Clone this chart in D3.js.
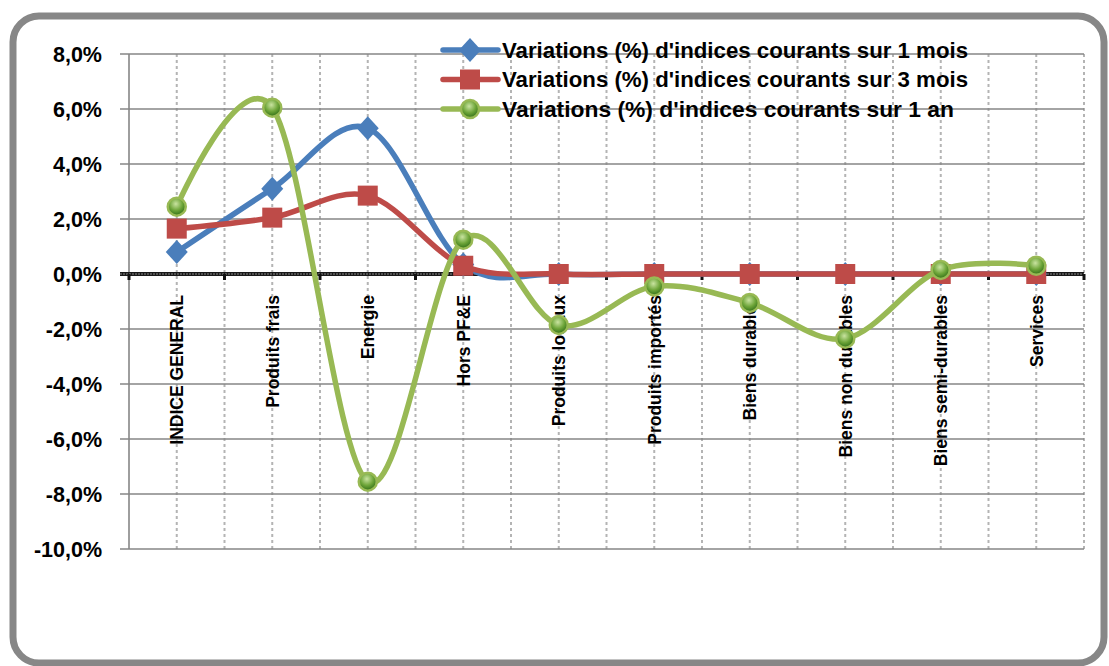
<!DOCTYPE html>
<html>
<head>
<meta charset="utf-8">
<script src="https://cdn.jsdelivr.net/npm/d3@7/dist/d3.min.js"></script>
<style>
  body { margin: 0; background: #fff; }
  svg { display: block; font-family: "Liberation Sans", Arial, sans-serif; }
</style>
</head>
<body>
<div id="chart"></div>
<script>
// Données
const categories = ["INDICE GENERAL", "Produits frais", "Energie", "Hors PF&E", "Produits locaux",
    "Produits importés", "Biens durables", "Biens non durables", "Biens semi-durables", "Services"];
const var1Mois = [0.8, 3.1, 5.3, 0.35, 0, 0, 0, 0, 0, 0];
const var3Mois = [1.65, 2.05, 2.85, 0.3, 0, 0, 0, 0, 0, 0];
const var1An = [2.45, 6.05, -7.55, 1.25, -1.85, -0.45, -1.05, -2.35, 0.15, 0.3];
const yTicks = [8, 6, 4, 2, 0, -2, -4, -6, -8, -10];
const seriesNames = ["Variations (%) d'indices courants sur 1 mois",
    "Variations (%) d'indices courants sur 3 mois",
    "Variations (%) d'indices courants sur 1 an"];

const width = 1109, height = 666;
const margin = { top: 54, right: 25, bottom: 117, left: 129 };

const svg = d3.select("#chart").append("svg")
    .attr("width", width)
    .attr("height", height);

// dégradé pour les marqueurs ronds
const defs = svg.append("defs");
const grad = defs.append("radialGradient").attr("id", "greenBall")
    .attr("cx", "45%").attr("cy", "35%").attr("r", "65%");
grad.append("stop").attr("offset", "0%").attr("stop-color", "#c9e3a0");
grad.append("stop").attr("offset", "55%").attr("stop-color", "#6fa63a");
grad.append("stop").attr("offset", "100%").attr("stop-color", "#2f6e16");

// cadre arrondi
svg.append("rect")
    .attr("x", 13).attr("y", 16)
    .attr("width", 1091).attr("height", 647)
    .attr("rx", 26)
    .attr("fill", "#fff")
    .attr("stroke", "#878787")
    .attr("stroke-width", 7);

const x = d3.scaleBand()
    .domain(categories)
    .range([margin.left, width - margin.right]);

const y = d3.scaleLinear()
    .domain([-10, 8])
    .range([height - margin.bottom, margin.top]);

const cx = d => x(d) + x.bandwidth() / 2;

// grille verticale pointillée (centres et limites)
const vLines = [];
categories.forEach(c => { vLines.push(x(c) + x.bandwidth() / 2); vLines.push(x(c) + x.bandwidth()); });
svg.append("g").selectAll("line")
    .data(vLines)
    .enter().append("line")
    .attr("x1", d => d).attr("x2", d => d)
    .attr("y1", y(8)).attr("y2", y(-10))
    .attr("stroke", "#b4b4b4")
    .attr("stroke-width", 2)
    .attr("stroke-dasharray", "3,3");

// grille horizontale
svg.append("g").selectAll("line")
    .data(yTicks.filter(d => d !== 0))
    .enter().append("line")
    .attr("x1", margin.left - 9).attr("x2", width - margin.right)
    .attr("y1", d => y(d)).attr("y2", d => y(d))
    .attr("stroke", "#868686")
    .attr("stroke-width", 1.6);

// axe vertical
svg.append("line")
    .attr("x1", margin.left).attr("x2", margin.left)
    .attr("y1", y(8)).attr("y2", y(-10))
    .attr("stroke", "#868686")
    .attr("stroke-width", 1.6);

// étiquettes axe Y
svg.append("g").selectAll("text")
    .data(yTicks)
    .enter().append("text")
    .attr("x", 102)
    .attr("y", d => y(d))
    .attr("dy", "0.36em")
    .attr("text-anchor", "end")
    .attr("font-size", "21.5px")
    .attr("font-weight", "bold")
    .attr("fill", "#000")
    .text(d => d3.format(".1f")(d).replace(".", ",").replace("\u2212", "-") + "%");

// axe zéro (trait épais hachuré) + graduations
svg.append("line")
    .attr("x1", margin.left - 9).attr("x2", width - margin.right)
    .attr("y1", y(0)).attr("y2", y(0))
    .attr("stroke", "#1a1a1a")
    .attr("stroke-width", 4);
svg.append("line")
    .attr("x1", margin.left - 9).attr("x2", width - margin.right)
    .attr("y1", y(0)).attr("y2", y(0))
    .attr("stroke", "#8a8a8a")
    .attr("stroke-width", 1.2)
    .attr("stroke-dasharray", "2,1");
svg.append("g").selectAll("line")
    .data([margin.left].concat(categories.map(c => x(c) + x.bandwidth())))
    .enter().append("line")
    .attr("x1", d => d).attr("x2", d => d)
    .attr("y1", y(0)).attr("y2", y(0) + 6)
    .attr("stroke", "#111")
    .attr("stroke-width", 3);

// étiquettes des catégories (verticales)
svg.append("g").selectAll("text")
    .data(categories)
    .enter().append("text")
    .attr("transform", d => `translate(${cx(d)},${y(0) + 21}) rotate(-90)`)
    .attr("dy", "0.36em")
    .attr("text-anchor", "end")
    .attr("font-size", "17.5px")
    .attr("font-weight", "bold")
    .attr("fill", "#000")
    .text(d => d);

const line = d3.line()
    .x((d, i) => cx(categories[i]))
    .y(d => y(d))
    .curve(d3.curveCardinal.tension(0));

const series = [
    { name: seriesNames[0], values: var1Mois, color: "#4A7EBB", marker: "diamond" },
    { name: seriesNames[1], values: var3Mois, color: "#BE4B48", marker: "square" },
    { name: seriesNames[2], values: var1An, color: "#98B954", marker: "circle" }
];

function drawMarker(g, type, color) {
    if (type === "diamond") {
        g.append("path").attr("d", "M0,-12L11,0L0,12L-11,0Z").attr("fill", color);
    } else if (type === "square") {
        g.append("rect").attr("x", -10).attr("y", -10).attr("width", 20).attr("height", 20).attr("fill", color);
    } else {
        g.append("circle").attr("r", 9).attr("fill", "url(#greenBall)")
            .attr("stroke", color).attr("stroke-width", 2.5);
    }
}

series.forEach(s => {
    const g = svg.append("g");
    g.append("path")
        .datum(s.values)
        .attr("fill", "none")
        .attr("stroke", s.color)
        .attr("stroke-width", 5.5)
        .attr("stroke-linejoin", "round")
        .attr("d", line);
    g.selectAll(".m")
        .data(s.values)
        .enter().append("g")
        .attr("transform", (d, i) => `translate(${cx(categories[i])},${y(d)})`)
        .each(function () { drawMarker(d3.select(this), s.marker, s.color); });
});

// légende
const legend = svg.append("g");
series.forEach((s, i) => {
    const ly = 50 + i * 29.5;
    const lg = legend.append("g");
    lg.append("line")
        .attr("x1", 443).attr("x2", 498)
        .attr("y1", ly).attr("y2", ly)
        .attr("stroke", s.color)
        .attr("stroke-width", 5.5)
        .attr("stroke-linecap", "round");
    const mg = lg.append("g").attr("transform", `translate(470,${ly})`);
    drawMarker(mg, s.marker, s.color);
    lg.append("text")
        .attr("x", 502)
        .attr("y", ly)
        .attr("dy", "0.36em")
        .attr("font-size", "22px")
        .attr("font-weight", "bold")
        .attr("fill", "#000")
        .attr("textLength", i === 2 ? 452 : 466)
        .attr("lengthAdjust", "spacingAndGlyphs")
        .text(s.name);
});
</script>
</body>
</html>
